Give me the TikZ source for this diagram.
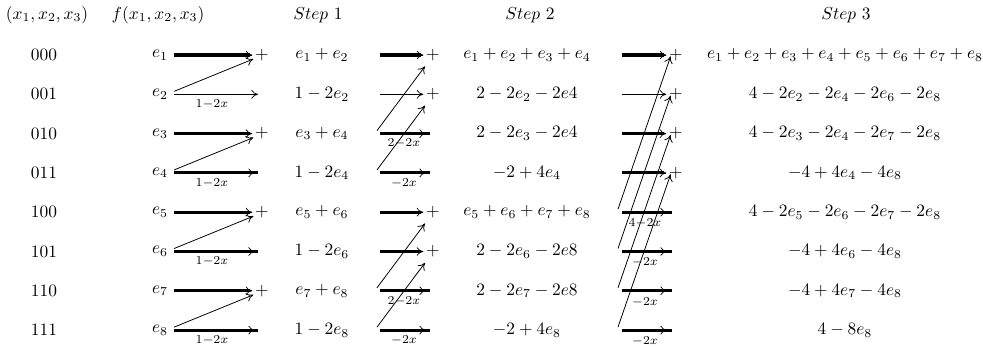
\documentclass[tikz,border=0pt]{standalone}
\usetikzlibrary{arrows.meta}
\begin{document}
\begin{tikzpicture}[x=0.575pt,y=-0.575pt]
\tikzset{
  thk/.style={line width=1.75pt},
  arr/.style={-{To[length=3.8pt,width=5pt]}, line width=0.4pt},
  dg/.style={-{To[length=4pt,width=5pt]}, line width=0.45pt},
  pl/.style={inner sep=1.5pt},
  wt/.style={inner sep=0pt}
}
\useasboundingbox (0,0) rectangle (983,348);
% headers
\node (h0) at (47,15) {$(x_1,x_2,x_3)$};
\node (h1) at (158,15) {$f(x_1,x_2,x_3)$};
\node (h2) at (318,15) {$Step\ 1$};
\node (h3) at (530,15) {$Step\ 2$};
\node (h4) at (846,15) {$Step\ 3$};
% rows
\foreach \r/\b/\sa/\sb/\sc in {
 1/000/{e_1+e_2}/{e_1+e_2+e_3+e_4}/{e_1+e_2+e_3+e_4+e_5+e_6+e_7+e_8},
 2/001/{1-2e_2}/{2-2e_2-2e4}/{4-2e_2-2e_4-2e_6-2e_8},
 3/010/{e_3+e_4}/{2-2e_3-2e4}/{4-2e_3-2e_4-2e_7-2e_8},
 4/011/{1-2e_4}/{-2+4e_4}/{-4+4e_4-4e_8},
 5/100/{e_5+e_6}/{e_5+e_6+e_7+e_8}/{4-2e_5-2e_6-2e_7-2e_8},
 6/101/{1-2e_6}/{2-2e_6-2e8}/{-4+4e_6-4e_8},
 7/110/{e_7+e_8}/{2-2e_7-2e8}/{-4+4e_7-4e_8},
 8/111/{1-2e_8}/{-2+4e_8}/{4-8e_8}}{
 \pgfmathsetmacro{\y}{55+(\r-1)*39.3}
 \node (b\r) at (44,\y) {\b};
 \node (f\r) at (160,\y) {$e_\r$};
 \node (sa\r) at (322,\y) {$\sa$};
 \node (sb\r) at (527,\y) {$\sb$};
 \node (sc\r) at (845,\y) {$\sc$};
 \coordinate (a1\r) at (380,\y);
 \coordinate (d1\r) at (377,\y-3);
 \coordinate (a2\r) at (622,\y);
 \coordinate (d2\r) at (618,\y-3);
 \coordinate (t0\r) at (258,\y);
 \coordinate (u0\r) at (255,\y);
 \coordinate (t1\r) at (430,\y);
 \coordinate (u1\r) at (426,\y);
 \coordinate (t2\r) at (672,\y);
 \coordinate (u2\r) at (667,\y);
}
% plus signs
\foreach \r in {1,3,5,7}{\pgfmathsetmacro{\y}{55+(\r-1)*39.3}\node[pl] (p0\r) at (262,\y) {$+$};}
\foreach \r in {1,2,5,6}{\pgfmathsetmacro{\y}{55+(\r-1)*39.3}\node[pl] (p1\r) at (433,\y) {$+$};}
\foreach \r in {1,2,3,4}{\pgfmathsetmacro{\y}{55+(\r-1)*39.3}\node[pl] (p2\r) at (676,\y) {$+$};}
% ---- step 0 ----
\foreach \r in {1,3,5,7}{
  \draw[thk] (f\r.east) -- ([xshift=-1.5pt]p0\r.west);
  \draw[arr] (f\r.east) -- (p0\r.west);
}
\foreach \r in {4,6,8}{
  \draw[thk] (f\r.east) -- (t0\r);
  \draw[arr] (f\r.east) -- (u0\r);
}
\draw[arr] (f2.east) -- (t02);
\foreach \r/\q in {2/1,4/3,6/5,8/7}{
  \draw[dg] ([yshift=1.7pt]f\r.east) -- ([xshift=0.6pt,yshift=-2.3pt]p0\q.west);
  \pgfmathsetmacro{\y}{55+(\r-1)*39.3+10}
  \node[wt] (w0\r) at (212,\y) {$\scriptstyle 1-2x$};
}
% ---- step 1 ----
\foreach \r in {1,5,6}{
  \draw[thk] (a1\r) -- ([xshift=-1.5pt]p1\r.west);
  \draw[arr] (a1\r) -- (p1\r.west);
}
\draw[arr] (a12) -- (p12.west);
\foreach \r in {3,4,7,8}{
  \draw[thk] (a1\r) -- (t1\r);
  \draw[arr] (a1\r) -- (u1\r);
}
\foreach \r/\q in {3/1,4/2,7/5,8/6}{
  \draw[dg] (d1\r) -- ([xshift=1pt,yshift=-6.5pt]p1\q.west);
}
\foreach \r/\l in {3/{2-2x},4/{-2x},7/{2-2x},8/{-2x}}{
  \pgfmathsetmacro{\y}{55+(\r-1)*39.3+10}
  \node[wt] (w1\r) at (404,\y) {$\scriptstyle \l$};
}
% ---- step 2 ----
\foreach \r in {1,3,4}{
  \draw[thk] (a2\r) -- ([xshift=-1.5pt]p2\r.west);
  \draw[arr] (a2\r) -- (p2\r.west);
}
\draw[arr] (a22) -- (p22.west);
\foreach \r in {5,6,7,8}{
  \draw[thk] (a2\r) -- (t2\r);
  \draw[arr] (a2\r) -- (u2\r);
}
\foreach \r/\q in {5/1,6/2,7/3,8/4}{
  \draw[dg] (d2\r) -- ([xshift=2.5pt,yshift=-0.8pt]p2\q.west);
}
\foreach \r/\l in {5/{4-2x},6/{-2x},7/{-2x},8/{-2x}}{
  \pgfmathsetmacro{\y}{55+(\r-1)*39.3+11}
  \node[wt] (w2\r) at (645,\y) {$\scriptstyle \l$};
}
\end{tikzpicture}
\end{document}
